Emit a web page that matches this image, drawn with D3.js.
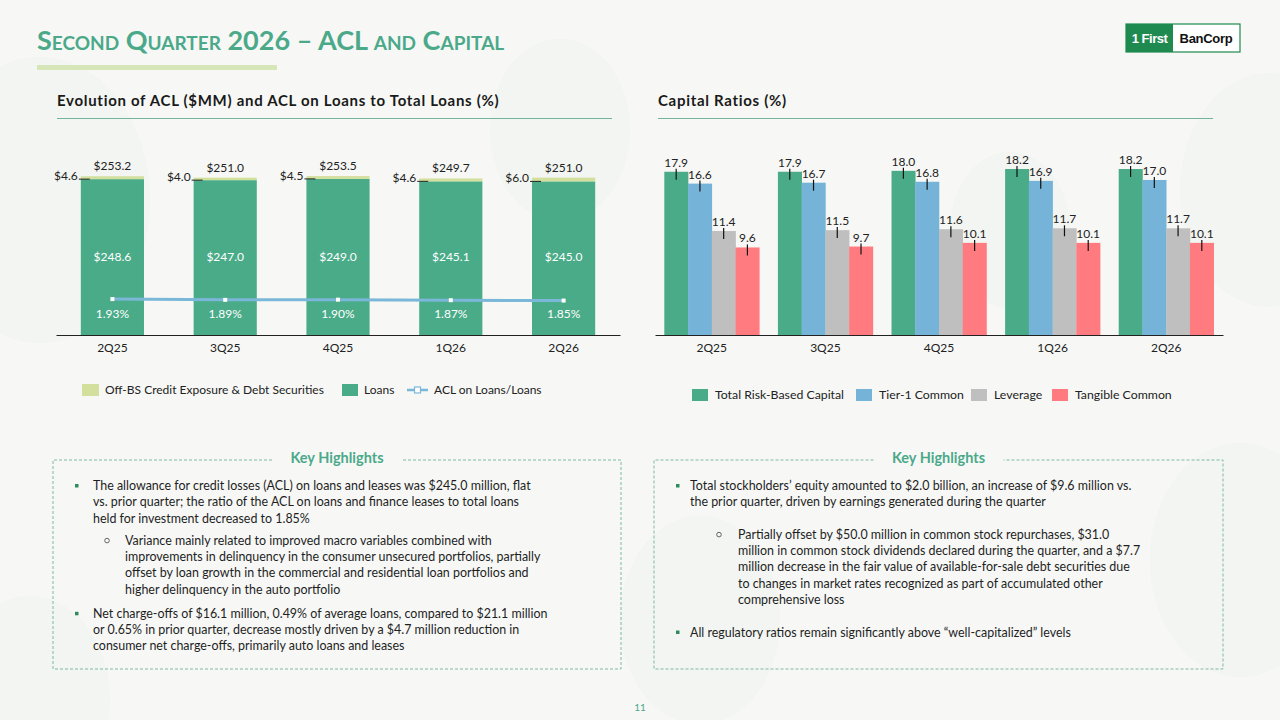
<!DOCTYPE html>
<html>
<head>
<meta charset="utf-8">
<script src="https://cdn.jsdelivr.net/npm/d3@7"></script>
<style>
  html, body { margin: 0; padding: 0; background: #f7f8f6; }
  svg { display: block; font-family: Lato, "Open Sans", sans-serif; }
</style>
</head>
<body>
<div id="slide"></div>
<script>
// ---- data ----
const quarters = ["2Q25", "3Q25", "4Q25", "1Q26", "2Q26"];
const loansAcl = [248.6, 247.0, 249.0, 245.1, 245.0];
const offBsAcl = [4.6, 4.0, 4.5, 4.6, 6.0];
const aclRatio = [1.93, 1.89, 1.90, 1.87, 1.85];

const capitalSeries = ["Total Risk-Based Capital", "Tier-1 Common", "Leverage", "Tangible Common"];
const totalRiskBased = [17.9, 17.9, 18.0, 18.2, 18.2];
const tier1Common = [16.6, 16.7, 16.8, 16.9, 17.0];
const leverageRatio = [11.4, 11.5, 11.6, 11.7, 11.7];
const tangibleCommon = [9.6, 9.7, 10.1, 10.1, 10.1];

const leftLegend = ["Off-BS Credit Exposure & Debt Securities", "Loans", "ACL on Loans/Loans"];

const leftHighlights = [
  {sub: false, lines: ["The allowance for credit losses (ACL) on loans and leases was $245.0 million, flat",
    "vs. prior quarter; the ratio of the ACL on loans and finance leases to total loans",
    "held for investment decreased to 1.85%"]},
  {sub: true, lines: ["Variance mainly related to improved macro variables combined with",
    "improvements in delinquency in the consumer unsecured portfolios, partially",
    "offset by loan growth in the commercial and residential loan portfolios and",
    "higher delinquency in the auto portfolio"]},
  {sub: false, lines: ["Net charge-offs of $16.1 million, 0.49% of average loans, compared to $21.1 million",
    "or 0.65% in prior quarter, decrease mostly driven by a $4.7 million reduction in",
    "consumer net charge-offs, primarily auto loans and leases"]}
];
const rightHighlights = [
  {sub: false, lines: ["Total stockholders\u2019 equity amounted to $2.0 billion, an increase of $9.6 million vs.",
    "the prior quarter, driven by earnings generated during the quarter"]},
  {sub: true, lines: ["Partially offset by $50.0 million in common stock repurchases, $31.0",
    "million in common stock dividends declared during the quarter, and a $7.7",
    "million decrease in the fair value of available-for-sale debt securities due",
    "to changes in market rates recognized as part of accumulated other",
    "comprehensive loss"]},
  {sub: false, lines: ["All regulatory ratios remain significantly above \u201cwell-capitalized\u201d levels"]}
];

// ---- colours ----
const green = "#4aab88", pale = "#d3df9c", lineBlue = "#7bb7d9";
const capColors = ["#4aab88", "#76b3d9", "#bfbfbf", "#ff7b7f"];
const teal = "#4ba98a";

const svg = d3.select("#slide").append("svg")
  .attr("width", 1280).attr("height", 720);

svg.append("rect").attr("width", 1280).attr("height", 720).attr("fill", "#f7f8f6");

// faint decorative leaves in the background
const deco = [[40, 200, 110], [1270, 190, 90], [1240, 560, 90], [30, 700, 80], [560, 130, 70], [700, 620, 80], [1010, 230, 60]];
svg.append("g").selectAll("ellipse").data(deco).join("ellipse")
  .attr("cx", d => d[0]).attr("cy", d => d[1]).attr("rx", d => d[2]).attr("ry", d => d[2] * 1.3)
  .attr("fill", "#eef2ec").attr("opacity", 0.5);

// ---- header ----
svg.append("text")
  .attr("x", 37).attr("y", 50)
  .attr("fill", teal)
  .attr("font-size", 27).attr("font-weight", "bold")
  .style("font-variant", "small-caps")
  .text("Second Quarter 2026 \u2013 ACL and Capital");
svg.append("rect").attr("x", 37).attr("y", 65).attr("width", 240).attr("height", 5).attr("fill", "#d6e6b8");

// logo
const logo = svg.append("g").attr("transform", "translate(1126,24)");
logo.append("rect").attr("width", 114).attr("height", 28).attr("fill", "#fff").attr("stroke", "#1f8a4f").attr("stroke-width", 1.2);
logo.append("rect").attr("width", 47).attr("height", 28).attr("fill", "#1f8a4f");
logo.append("text").attr("x", 23.5).attr("y", 19).attr("text-anchor", "middle").attr("fill", "#fff")
  .attr("font-family", "Liberation Sans, Arial, sans-serif").attr("font-weight", "bold").attr("font-size", 13)
  .attr("letter-spacing", -0.5).text("1 First");
logo.append("text").attr("x", 80).attr("y", 19).attr("text-anchor", "middle").attr("fill", "#111")
  .attr("font-family", "Liberation Sans, Arial, sans-serif").attr("font-weight", "bold").attr("font-size", 13)
  .attr("letter-spacing", -0.3).text("BanCorp");

// section titles
[[57, 612, "Evolution of ACL ($MM) and ACL on Loans to Total Loans (%)"], [658, 1213, "Capital Ratios (%)"]].forEach(([x0, x1, t]) => {
  svg.append("text").attr("x", x0).attr("y", 106).attr("font-size", 15).attr("font-weight", "bold")
    .attr("fill", "#1a1a1a").attr("letter-spacing", 0.7).text(t);
  svg.append("line").attr("x1", x0).attr("x2", x1).attr("y1", 118.5).attr("y2", 118.5)
    .attr("stroke", "#72b49c").attr("stroke-width", 1);
});

// ---- left chart ----
const baseY = 335;
const xL = d3.scaleBand().domain(quarters).range([56, 620]).paddingInner(0.44).paddingOuter(0.22);
const yL = d3.scaleLinear().domain([0, 260]).range([baseY, 172]);
const yR = d3.scaleLinear().domain([0, 8.6]).range([baseY, 175]);

const left = svg.append("g");
const leftData = quarters.map((q, i) => ({q, loans: loansAcl[i], off: offBsAcl[i], total: loansAcl[i] + offBsAcl[i], ratio: aclRatio[i]}));

left.selectAll("rect.loans").data(leftData).join("rect").attr("class", "loans")
  .attr("x", d => xL(d.q)).attr("width", xL.bandwidth())
  .attr("y", d => yL(d.loans)).attr("height", d => yL(0) - yL(d.loans))
  .attr("fill", green);
left.selectAll("rect.off").data(leftData).join("rect").attr("class", "off")
  .attr("x", d => xL(d.q)).attr("width", xL.bandwidth())
  .attr("y", d => yL(d.total)).attr("height", d => yL(d.loans) - yL(d.total))
  .attr("fill", pale);

// totals
left.selectAll("text.total").data(leftData).join("text").attr("class", "total")
  .attr("x", d => xL(d.q) + xL.bandwidth() / 2).attr("y", d => yL(d.total) - 6)
  .attr("text-anchor", "middle").attr("font-size", 12).attr("fill", "#222")
  .text(d => "$" + d.total.toFixed(1));
// off-BS labels with leader
left.selectAll("line.lead").data(leftData).join("line").attr("class", "lead")
  .attr("x1", d => xL(d.q) - 2).attr("x2", d => xL(d.q) + 9)
  .attr("y1", d => yL(d.loans)).attr("y2", d => yL(d.loans))
  .attr("stroke", "#222").attr("stroke-width", 1);
left.selectAll("text.off").data(leftData).join("text").attr("class", "off")
  .attr("x", d => xL(d.q) - 3).attr("y", d => yL(d.loans) + 1)
  .attr("text-anchor", "end").attr("font-size", 12).attr("fill", "#222")
  .text(d => "$" + d.off.toFixed(1));
// loans labels
left.selectAll("text.loans").data(leftData).join("text").attr("class", "loans")
  .attr("x", d => xL(d.q) + xL.bandwidth() / 2).attr("y", 261)
  .attr("text-anchor", "middle").attr("font-size", 12).attr("fill", "#fff")
  .text(d => "$" + d.loans.toFixed(1));

// ratio line
left.append("path").datum(leftData)
  .attr("fill", "none").attr("stroke", lineBlue).attr("stroke-width", 3)
  .attr("d", d3.line().x(d => xL(d.q) + xL.bandwidth() / 2).y(d => yR(d.ratio)));
left.selectAll("rect.mk").data(leftData).join("rect").attr("class", "mk")
  .attr("x", d => xL(d.q) + xL.bandwidth() / 2 - 2).attr("y", d => yR(d.ratio) - 2)
  .attr("width", 4).attr("height", 4).attr("fill", "#fff");
left.selectAll("text.ratio").data(leftData).join("text").attr("class", "ratio")
  .attr("x", d => xL(d.q) + xL.bandwidth() / 2).attr("y", 318)
  .attr("text-anchor", "middle").attr("font-size", 12).attr("fill", "#fff")
  .text(d => d.ratio.toFixed(2) + "%");

const axL = left.append("g").attr("transform", `translate(0,${baseY})`)
  .call(d3.axisBottom(xL).tickSize(0).tickPadding(8));
axL.select(".domain").attr("stroke", "#222");
axL.selectAll("text").attr("font-size", 12).attr("fill", "#222").attr("font-family", "Lato, sans-serif");

// left legend
const lg = svg.append("g").attr("transform", "translate(0,390)");
lg.append("rect").attr("x", 82).attr("y", -6).attr("width", 17).attr("height", 12).attr("fill", pale);
lg.append("text").attr("x", 105).attr("y", 4).attr("font-size", 12).attr("fill", "#222").text(leftLegend[0]);
lg.append("rect").attr("x", 342).attr("y", -6).attr("width", 16).attr("height", 12).attr("fill", green);
lg.append("text").attr("x", 364).attr("y", 4).attr("font-size", 12).attr("fill", "#222").text(leftLegend[1]);
lg.append("line").attr("x1", 407).attr("x2", 428).attr("y1", 0).attr("y2", 0).attr("stroke", lineBlue).attr("stroke-width", 2.5);
lg.append("rect").attr("x", 414.5).attr("y", -3).attr("width", 6).attr("height", 6).attr("fill", "#fff").attr("stroke", lineBlue).attr("stroke-width", 1.2);
lg.append("text").attr("x", 434).attr("y", 4).attr("font-size", 12).attr("fill", "#222").text(leftLegend[2]);

// ---- right chart ----
const capValues = [totalRiskBased, tier1Common, leverageRatio, tangibleCommon];
const x0 = d3.scaleBand().domain(quarters).range([655, 1223]).paddingInner(0.164).paddingOuter(0.082);
const x1 = d3.scaleBand().domain(capitalSeries).range([0, x0.bandwidth()]);
const yC = d3.scaleLinear().domain([0, 20]).range([baseY, baseY - 182.4]);

const capData = [];
quarters.forEach((q, i) => capitalSeries.forEach((s, j) => capData.push({q, s, j, v: capValues[j][i]})));

const right = svg.append("g");
right.selectAll("rect").data(capData).join("rect")
  .attr("x", d => x0(d.q) + x1(d.s)).attr("width", x1.bandwidth() + 0.3)
  .attr("y", d => yC(d.v)).attr("height", d => yC(0) - yC(d.v))
  .attr("fill", d => capColors[d.j]);
right.selectAll("line.tick").data(capData).join("line").attr("class", "tick")
  .attr("x1", d => x0(d.q) + x1(d.s) + x1.bandwidth() / 2).attr("x2", d => x0(d.q) + x1(d.s) + x1.bandwidth() / 2)
  .attr("y1", d => yC(d.v) - 3).attr("y2", d => yC(d.v) + 8)
  .attr("stroke", "#111").attr("stroke-width", 1.2);
right.selectAll("text.val").data(capData).join("text").attr("class", "val")
  .attr("x", d => x0(d.q) + x1(d.s) + x1.bandwidth() / 2).attr("y", d => yC(d.v) - 5)
  .attr("text-anchor", "middle").attr("font-size", 12).attr("fill", "#222")
  .text(d => d.v.toFixed(1));

const axR = right.append("g").attr("transform", `translate(0,${baseY})`)
  .call(d3.axisBottom(x0).tickSize(0).tickPadding(8));
axR.select(".domain").attr("stroke", "#222");
axR.selectAll("text").attr("font-size", 12).attr("fill", "#222").attr("font-family", "Lato, sans-serif");

// right legend
const legX = [692, 856, 971, 1052];
const rg = svg.append("g").attr("transform", "translate(0,395)");
capitalSeries.forEach((s, j) => {
  rg.append("rect").attr("x", legX[j]).attr("y", -6).attr("width", 16).attr("height", 12).attr("fill", capColors[j]);
  rg.append("text").attr("x", legX[j] + 23).attr("y", 4).attr("font-size", 12.3).attr("fill", "#222").text(s);
});

// ---- key highlight boxes ----
function highlightBox(bx, bw, items, textX, subDotX, subTextX, startY, gaps) {
  const by = 460, bh = 209;
  const g = svg.append("g");
  const title = "Key Highlights";
  const cx = bx + bw / 2;
  const tw = 110;
  g.append("path")
    .attr("d", `M${cx - tw / 2 - 10},${by} H${bx} V${by + bh} H${bx + bw} V${by} H${cx + tw / 2 + 10}`)
    .attr("fill", "none").attr("stroke", "#7db9a3").attr("stroke-width", 1).attr("stroke-dasharray", "3,2");
  g.append("text").attr("x", cx).attr("y", by + 3).attr("text-anchor", "middle")
    .attr("font-size", 14.5).attr("font-weight", "bold").attr("fill", teal).text(title);
  let y = startY;
  items.forEach((it, k) => {
    if (k > 0) y += gaps[k - 1];
    if (it.sub) {
      g.append("circle").attr("cx", subDotX).attr("cy", y - 4).attr("r", 2.3)
        .attr("fill", "none").attr("stroke", "#555").attr("stroke-width", 0.9);
    } else {
      g.append("rect").attr("x", bx + 22).attr("y", y - 6).attr("width", 3.5).attr("height", 3.5).attr("fill", "#2f8a5c");
    }
    it.lines.forEach((ln, li) => {
      g.append("text").attr("x", it.sub ? subTextX : textX).attr("y", y + li * 16.3)
        .attr("font-size", 12.45).attr("fill", "#1e1e1e").text(ln);
    });
    y += (it.lines.length - 1) * 16.3;
  });
}
highlightBox(53, 568, leftHighlights, 93, 107, 125, 490, [22, 24.3]);
highlightBox(654, 569, rightHighlights, 690, 719, 738, 490, [32.3, 32.7]);

// page number
svg.append("text").attr("x", 640).attr("y", 711).attr("text-anchor", "middle")
  .attr("font-size", 10).attr("fill", teal).text("11");
</script>
</body>
</html>
